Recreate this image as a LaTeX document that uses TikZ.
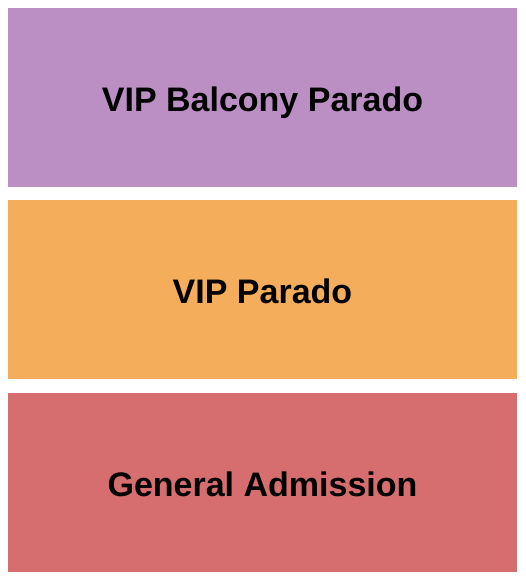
\documentclass[tikz,border=0pt]{standalone}
\usepackage{fontspec}
\setmainfont{Liberation Sans}
\definecolor{balcony}{HTML}{BB8FC3}
\definecolor{parado}{HTML}{F4AD5A}
\definecolor{general}{HTML}{D66D6E}
\tikzset{
	section/.style={minimum width=509pt, minimum height=179pt, inner sep=0pt,
		text height=28pt, text depth=0pt,
		font=\fontsize{34}{40}\selectfont\bfseries}
}
\begin{document}
\begin{tikzpicture}[x=1pt,y=1pt]
		\useasboundingbox (0,0) rectangle (525,580);
		\foreach \i/\c/\n/\t in {0/balcony/vipbalcony/VIP Balcony Parado,1/parado/vipparado/VIP Parado,2/general/general/General Admission}{
				\pgfmathsetmacro{\y}{580-97.5-192.5*\i}
				\node [section, fill=\c] (\n) at (262.5,\y) {\t};
			}
	\end{tikzpicture}
\end{document}
